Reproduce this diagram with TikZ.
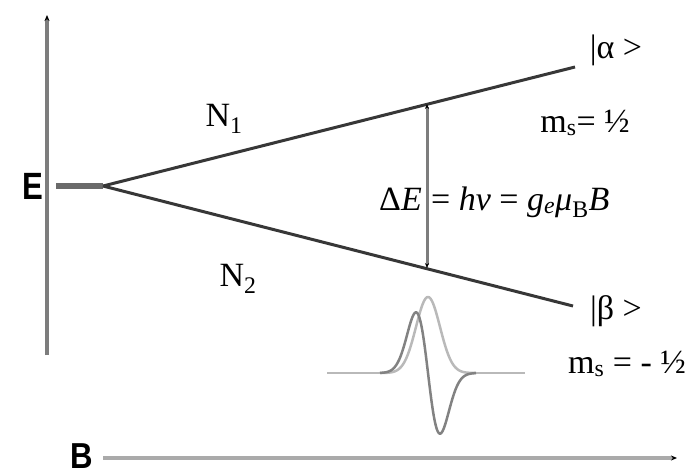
\documentclass[tikz,border=0pt]{standalone}
\usepackage{fontspec}
\usepackage{graphicx}
\setmainfont{Liberation Serif}
\newfontfamily\axisfont{Liberation Sans}
\usetikzlibrary{arrows.meta}
\definecolor{axisgray}{RGB}{125,125,125}
\definecolor{lvlgray}{RGB}{55,55,55}
\definecolor{baxis}{RGB}{170,170,170}
\definecolor{lightcurve}{RGB}{185,185,185}
\definecolor{darkcurve}{RGB}{130,130,130}
\tikzset{
  axislbl/.style={font=\axisfont\bfseries\fontsize{38}{40}\selectfont, inner sep=0pt},
  lbl/.style={font=\fontsize{34}{36}\selectfont, inner sep=0pt},
  level/.style={draw=lvlgray, line width=3pt},
  tipk/.style={-{Stealth[length=6pt,width=5pt,color=black]}},
}
\begin{document}
\begin{tikzpicture}[x=1pt,y=-1pt]
\useasboundingbox (0,0) rectangle (697,475);
% axes
\coordinate (eBot) at (47,355);
\coordinate (eTop) at (47,15);
\coordinate (bLeft) at (103,458);
\coordinate (bRight) at (677,458);
\draw[axisgray, line width=4pt, tipk] (eBot) -- (eTop);
\draw[baxis, line width=4pt, tipk] (bLeft) -- (bRight);
\node[axislbl] (E) at (33,186) {\scalebox{0.82}[1]{E}};
\node[axislbl] (B) at (82,456) {\scalebox{0.82}[0.95]{B}};
% levels
\coordinate (stub) at (56,186);
\coordinate (split) at (103,186);
\coordinate (alphaEnd) at (575,67);
\coordinate (betaEnd) at (573,306);
\draw[axisgray!85!black, line width=6pt] (stub) -- (split);
\draw[level] (split) -- (alphaEnd);
\draw[level] (split) -- (betaEnd);
% Delta E arrow
\coordinate (dTop) at (427,104);
\coordinate (dBot) at (427,268);
\draw[axisgray, line width=3pt, {Stealth[length=5pt,width=4pt,color=black]}-{Stealth[length=5pt,width=4pt,color=black]}] (dBot) -- (dTop);
\node[lbl, anchor=base east] (dE) at (422,210) {Δ\textit{E}};
\node[lbl, anchor=base west] (formula) at (431,210) {= \textit{hν} = \textit{g}\textsubscript{\textit{e}}\textit{μ}\textsubscript{B}\textit{B}};
% labels
\node[lbl] (N1) at (224,119) {N\textsubscript{1}};
\node[lbl] (N2) at (238,279) {N\textsubscript{2}};
\node[lbl] (alpha) at (616,50) {|α >};
\node[lbl] (msa) at (585,123) {m\textsubscript{s}= ½};
\node[lbl] (beta) at (616,311) {|β >};
\node[lbl] (msb) at (627,364) {m\textsubscript{s} = - ½};
% spectrum
\coordinate (sL) at (327,373);
\coordinate (sA) at (380,373);
\coordinate (sB) at (476,373);
\coordinate (sR) at (525,373);
\draw[lightcurve, line width=2.5pt] (sL) -- (sA);
\draw[lightcurve, line width=2.5pt] (sB) -- (sR);
\draw[lightcurve, line width=2.5pt] plot[domain=380:476, samples=120, smooth] (\x, {373-76*exp(-0.5*((\x-428)/12)^2)});
\draw[darkcurve, line width=2.5pt] plot[domain=380:476, samples=120, smooth] (\x, {373+100*((\x-428)/12)*exp(-0.5*((\x-428)/12)^2)});
\end{tikzpicture}
\end{document}
